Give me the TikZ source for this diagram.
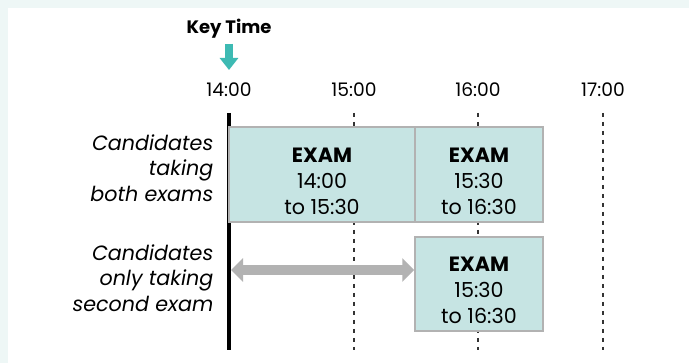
\documentclass[tikz,border=0pt]{standalone}
\usepackage{fontspec}
\setmainfont{Poppins}
\usetikzlibrary{arrows.meta}
\definecolor{mint}{HTML}{EEF7F6}
\definecolor{teal key}{HTML}{3DBAB3}
\definecolor{exam blue}{HTML}{C6E4E3}
\colorlet{exam edge}{black!30}
\colorlet{gap grey}{black!30}
\def\px{0.75pt}
\tikzset{
  exam/.style={draw=exam edge, fill=exam blue, line width=1.5*\px, align=center,
    font=\fontsize{15.5}{19.5}\selectfont},
  hour/.style={font=\fontsize{14}{16}\selectfont}
  }
\tikzstyle{grid line} = [draw, black!80, line width=1.4*\px, dash pattern=on 4.5*\px off 4.5*\px]
\tikzstyle{start line} = [draw, black, line width=4*\px]
\tikzstyle{key arrow} = [draw, teal key, line width=8*\px, -{Triangle[width=18*\px, length=12*\px]}]
\tikzstyle{gap arrow} = [draw, gap grey, line width=10*\px, {Triangle[width=23*\px, length=12*\px]}-{Triangle[width=23*\px, length=12*\px]}]
\tikzstyle{group} = [align=right, anchor=east, font=\fontsize{15.5}{19.3}\selectfont\itshape]
\def\lift{\rule{0pt}{21pt}}

\begin{document}
\begin{tikzpicture}[x=0.75pt, y=-0.75pt]

    % Page and panel
    \useasboundingbox (0,0) rectangle (689,363);
    \fill[mint] (0,0) rectangle (689,363);
    \fill[white] (8,8) rectangle (689,363);

    % The hours along the top
    \foreach \x/\h in {229/14, 354/15, 478/16, 603/17} {
      \node[hour] (t\h) at (\x, 90) {\h:00};
      \coordinate (top\h) at (\x, 113);
      \coordinate (bot\h) at (\x, 350);
    }

    % The key time and its arrow
    \node[font=\fontsize{13.5}{16}\selectfont\bfseries] (key) at (229, 29) {Key Time};
    \coordinate (keyA) at (229, 44);
    \coordinate (keyB) at (229, 70);
    \path[key arrow] (keyA) -- (keyB);

    % Dashed hour lines and the start line
    \foreach \h in {15, 16, 17}
      \path[grid line] (top\h) -- (bot\h);
    \path[start line] (top14) -- (bot14);

    % The exams
    \node[exam, minimum width=186*\px, minimum height=95*\px] (exA) at (322, 174.5)
      {\lift\textbf{EXAM}\\14:00\\to 15:30};
    \node[exam, minimum width=128*\px, minimum height=95*\px] (exB) at (479, 174.5)
      {\lift\textbf{EXAM}\\15:30\\to 16:30};
    \node[exam, minimum width=128*\px, minimum height=94*\px] (exC) at (479, 284)
      {\lift\textbf{EXAM}\\15:30\\to 16:30};

    % Who sits what
    \node[group] (both) at (218, 168) {Candidates\\taking\\both exams};
    \node[group] (second) at (218, 278) {Candidates\\only taking\\second exam};

    % The wait before the second exam
    \coordinate (gapL) at (231, 270);
    \path[gap arrow] (gapL) -- (gapL -| exC.west);

\end{tikzpicture}
\end{document}
